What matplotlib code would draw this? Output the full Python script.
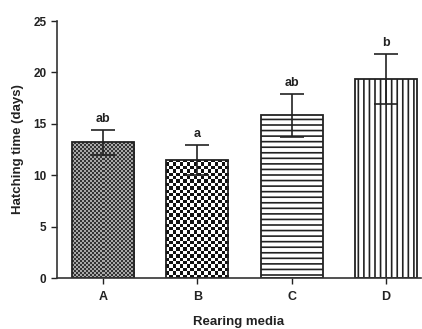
import numpy as np
import matplotlib
matplotlib.use("Agg")
import matplotlib.pyplot as plt

plt.rcParams['font.family'] = ['Liberation Sans', 'DejaVu Sans']
plt.rcParams['font.weight'] = 'bold'
plt.rcParams['hatch.linewidth'] = 1.2

media = ['A', 'B', 'C', 'D']
hatch_time = [13.2, 11.5, 15.85, 19.35]
hatch_err = [1.2, 1.45, 2.1, 2.45]
letters = ['ab', 'a', 'ab', 'b']

fig = plt.figure(figsize=(4.22, 3.29), dpi=100)
ax = fig.add_axes([0.135, 0.155, 0.862, 0.781])

x = np.arange(len(media))
bars = ax.bar(x, hatch_time, width=0.66, color='white', edgecolor='#222222',
              linewidth=1.3, zorder=2)

# C and D: line hatches
bars[2].set_hatch('---')
bars[3].set_hatch('|||')

ax.set_xlim(-0.49, 3.37)
ax.set_ylim(0, 25)

# A and B: checker patterns, drawn as images clipped to the bars
def checker(bar, cell_px, dark, light):
    x0, w, h = bar.get_x(), bar.get_width(), bar.get_height()
    p0 = ax.transData.transform((x0, 0))
    p1 = ax.transData.transform((x0 + w, h))
    nx = max(1, int(round((p1[0] - p0[0]) / cell_px)))
    ny = max(1, int(round((p1[1] - p0[1]) / cell_px)))
    grid = (np.add.outer(np.arange(ny), np.arange(nx)) % 2).astype(float)
    cmap = matplotlib.colors.ListedColormap([light, dark])
    im = ax.imshow(grid, extent=(x0, x0 + w, 0, h), cmap=cmap, aspect='auto',
                   interpolation='nearest', zorder=1.5)
    im.set_clip_path(bar)

checker(bars[0], 2.0, '#333333', '#a8a8a8')
checker(bars[1], 3.4, '#111111', '#ffffff')
for b in bars[:2]:
    b.set_facecolor('none')

ax.errorbar(x, hatch_time, yerr=hatch_err, fmt='none', ecolor='#222222',
            elinewidth=1.2, capsize=8.5, capthick=1.2, zorder=3)

for xi, yi, ei, lab in zip(x, hatch_time, hatch_err, letters):
    ax.annotate(lab, (xi, yi + ei), xytext=(0, 3.5), textcoords='offset points',
                ha='center', va='bottom', fontsize=9, fontweight='bold', color='#222222')

ax.set_yticks([0, 5, 10, 15, 20, 25])
ax.set_xticks(x)
ax.set_xticklabels(media)
ax.tick_params(axis='y', labelsize=8.5, length=4, width=1, colors='#222222')
ax.tick_params(axis='x', labelsize=9, length=4, width=1, colors='#222222', pad=5)
ax.set_ylabel('Hatching time (days)', fontsize=9.5, fontweight='bold', color='#222222', labelpad=7)
ax.set_xlabel('Rearing media', fontsize=9.5, fontweight='bold', color='#222222', labelpad=10)

for s in ['top', 'right']:
    ax.spines[s].set_visible(False)
for s in ['left', 'bottom']:
    ax.spines[s].set_linewidth(1.2)
    ax.spines[s].set_color('#333333')

fig.savefig('out.png', dpi=100)
